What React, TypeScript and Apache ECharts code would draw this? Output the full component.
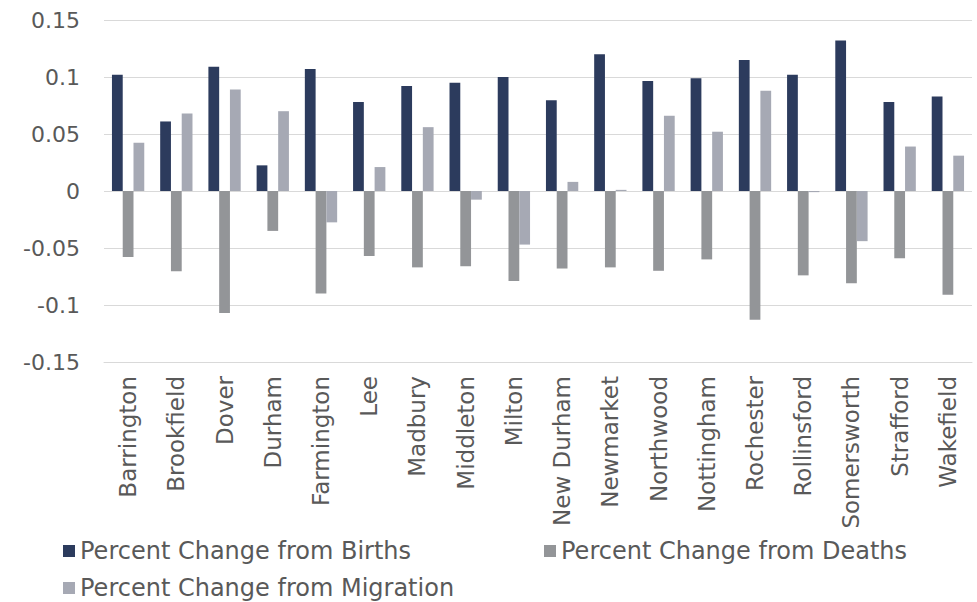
import React, { useEffect, useRef } from "react";
import * as echarts from "echarts";

const towns = [
  "Barrington", "Brookfield", "Dover", "Durham", "Farmington", "Lee", "Madbury",
  "Middleton", "Milton", "New Durham", "Newmarket", "Northwood", "Nottingham",
  "Rochester", "Rollinsford", "Somersworth", "Strafford", "Wakefield",
];

const births = [
  0.102, 0.061, 0.109, 0.0225, 0.107, 0.078, 0.092, 0.095, 0.1, 0.0795, 0.12,
  0.0965, 0.099, 0.115, 0.102, 0.132, 0.078, 0.083,
];

const deaths = [
  -0.058, -0.0705, -0.107, -0.035, -0.09, -0.057, -0.067, -0.066, -0.079, -0.068,
  -0.067, -0.07, -0.06, -0.113, -0.074, -0.081, -0.059, -0.091,
];

const migration = [
  0.0424, 0.068, 0.089, 0.07, -0.0275, 0.021, 0.056, -0.0076, -0.047, 0.008, 0.001,
  0.066, 0.052, 0.088, -0.001, -0.044, 0.039, 0.031,
];

const seriesNames = [
  "Percent Change from Births",
  "Percent Change from Deaths",
  "Percent Change from Migration",
];

const yTicks = { min: -0.15, max: 0.15, interval: 0.05 };

const colors = ["#2C3B5D", "#939598", "#A6A9B4"];
const FONT = "DejaVu Sans";
const TEXT = "#595959";

export default function App() {
  const ref = useRef<HTMLDivElement>(null);
  useEffect(() => {
    if (!ref.current) return;
    const chart = echarts.init(ref.current, undefined, { renderer: "svg" });
    const legendBase = {
      itemWidth: 12,
      itemHeight: 12,
      icon: "rect",
      textStyle: { fontFamily: FONT, fontSize: 24, color: TEXT },
    };
    chart.setOption({
      animation: false,
      color: colors,
      grid: { left: 104, right: 5, top: 20, bottom: 240 },
      legend: [
        { ...legendBase, data: [seriesNames[0]], left: 58, top: 534 },
        { ...legendBase, data: [seriesNames[1]], left: 539, top: 534 },
        { ...legendBase, data: [seriesNames[2]], left: 58, top: 571 },
      ],
      xAxis: {
        type: "category",
        data: towns,
        axisLine: { onZero: false, lineStyle: { color: "#D9D9D9" } },
        axisTick: { show: false },
        axisLabel: {
          rotate: 90,
          interval: 0,
          margin: 14,
          fontFamily: FONT,
          fontSize: 23,
          color: TEXT,
        },
      },
      yAxis: {
        type: "value",
        min: yTicks.min,
        max: yTicks.max,
        interval: yTicks.interval,
        axisLine: { show: false },
        axisTick: { show: false },
        splitLine: { lineStyle: { color: "#D9D9D9", width: 1 } },
        axisLabel: {
          margin: 24,
          fontFamily: FONT,
          fontSize: 22,
          color: TEXT,
          formatter: (v: number) => String(Math.round(v * 100) / 100),
        },
      },
      series: [births, deaths, migration].map((d, i) => ({
        name: seriesNames[i],
        type: "bar",
        data: d,
        barGap: "0%",
        barCategoryGap: "33%",
        itemStyle: { color: colors[i] },
      })),
    });
    return () => chart.dispose();
  }, []);
  return (
    <div
      ref={ref}
      style={{ position: "fixed", left: 0, top: 0, width: 977, height: 602, background: "#fff" }}
    />
  );
}
